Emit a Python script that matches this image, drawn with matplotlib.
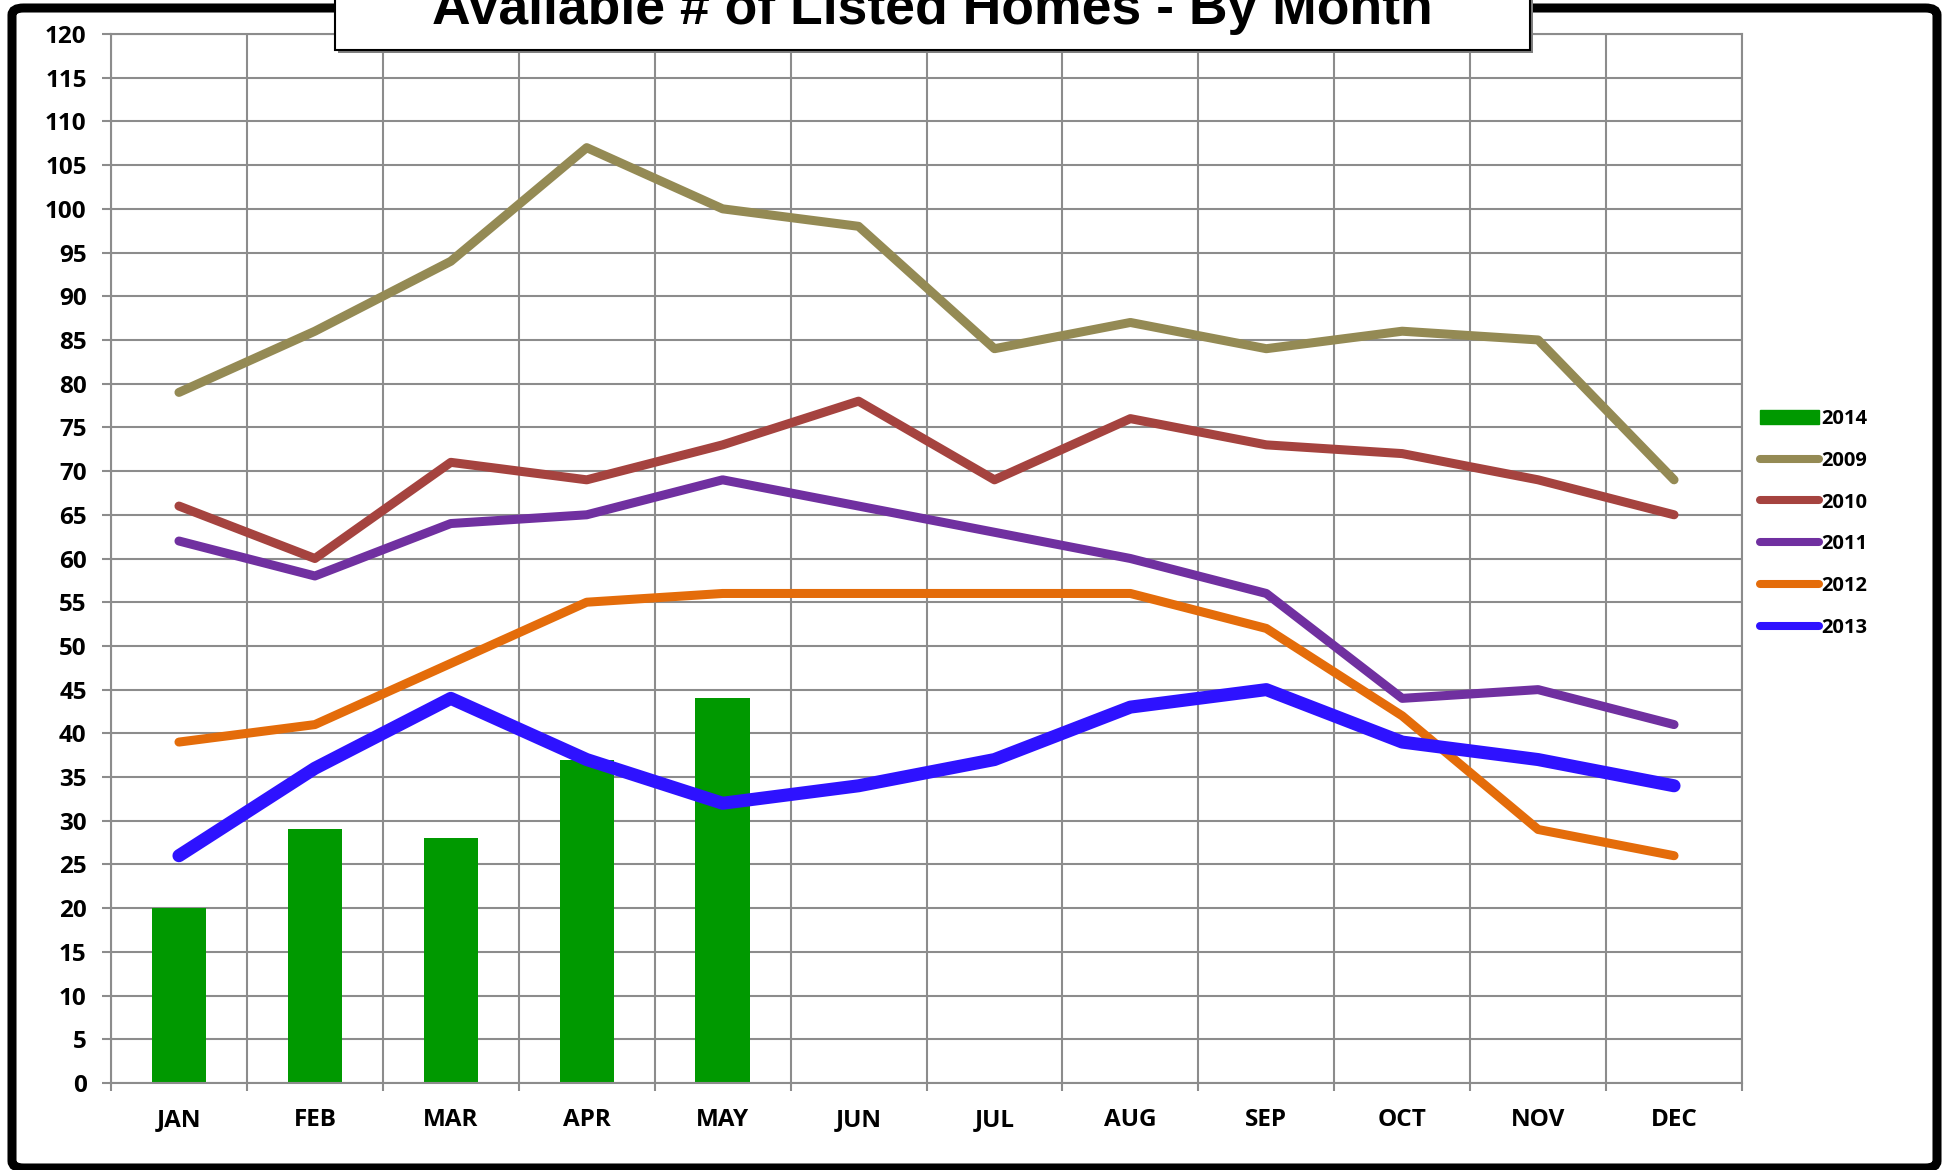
import matplotlib.pyplot as plt
from matplotlib.lines import Line2D
from matplotlib.patches import Patch, Rectangle, FancyBboxPatch

months = ["JAN", "FEB", "MAR", "APR", "MAY", "JUN", "JUL", "AUG", "SEP", "OCT", "NOV", "DEC"]
homes_2009 = [79, 86, 94, 107, 100, 98, 84, 87, 84, 86, 85, 69]
homes_2010 = [66, 60, 71, 69, 73, 78, 69, 76, 73, 72, 69, 65]
homes_2011 = [62, 58, 64, 65, 69, 66, 63, 60, 56, 44, 45, 41]
homes_2012 = [39, 41, 48, 55, 56, 56, 56, 56, 52, 42, 29, 26]
homes_2013 = [26, 36, 44, 37, 32, 34, 37, 43, 45, 39, 37, 34]
homes_2014 = [20, 29, 28, 37, 44]

plt.rcParams["font.family"] = ["Open Sans", "DejaVu Sans"]
plt.rcParams["font.weight"] = "bold"

W, H = 1946, 1170
fig = plt.figure(figsize=(W / 100, H / 100), dpi=100)
ax = fig.add_axes([111 / W, 1 - 1083 / H, (1742 - 111) / W, (1083 - 34) / H])

grid_col = "#8c8c8c"
x = [i + 0.5 for i in range(len(months))]

# bars first, lines on top
ax.bar(x[:len(homes_2014)], homes_2014, width=0.4, color="#009900", zorder=2)

series = [
    (homes_2009, "#948a54", 6.5),
    (homes_2010, "#a5433f", 6.5),
    (homes_2011, "#7030a0", 6.5),
    (homes_2012, "#e46c0a", 6.5),
    (homes_2013, "#2e12ff", 9.4),
]
for vals, col, lw in series:
    ax.plot(x, vals, color=col, lw=lw, solid_capstyle="round",
            solid_joinstyle="round", zorder=3)

ax.set_xlim(0, 12)
ax.set_ylim(0, 120)
ax.set_yticks(range(0, 121, 5))
ax.set_xticks(range(0, 13))
ax.set_xticklabels([])
ax.set_xticks(x, minor=True)
ax.set_xticklabels(months, minor=True)
ax.grid(True, color=grid_col, lw=1.5, zorder=0)
ax.set_axisbelow(True)
for s in ax.spines.values():
    s.set_color(grid_col)
    s.set_linewidth(1.5)

ax.tick_params(axis="y", length=6.5, width=1.5, color=grid_col, pad=11,
               labelsize=17.5)
ax.tick_params(axis="x", which="major", length=6, width=1.5, color=grid_col)
ax.tick_params(axis="x", which="minor", length=0, pad=18, labelsize=17.5)

# legend on the right
handles = [Patch(color="#009900")]
labels = ["2014", "2009", "2010", "2011", "2012", "2013"]
for vals, col, lw in series:
    handles.append(Line2D([0], [0], color=col, lw=5.8, solid_capstyle="round"))
leg = fig.legend(handles, labels, loc="upper left",
                 bbox_to_anchor=(1760 / W, 1 - 409 / H), frameon=False,
                 prop={"weight": "bold", "size": 14.5},
                 handlelength=2.95, handletextpad=0.1, labelspacing=1.08,
                 borderpad=0, borderaxespad=0)

# outer frame
fig.patches.append(FancyBboxPatch((12 / W, 2 / H), (1937 - 12) / W, (1162 - 2) / H,
                                  boxstyle="round,pad=0,rounding_size=0.006",
                                  transform=fig.transFigure, fill=False,
                                  ec="black", lw=6.5, zorder=1))

# title box sticking out of the top
fig.patches.append(Rectangle((338 / W, 1 - 53 / H), 1195 / W, 80 / H,
                             transform=fig.transFigure, fc="#7f7f7f", ec="none",
                             zorder=4))
fig.patches.append(Rectangle((335 / W, 1 - 50 / H), 1195 / W, 80 / H,
                             transform=fig.transFigure, fc="white", ec="black",
                             lw=1.5, zorder=5))
fig.text(932 / W, 1 - 24 / H, "Available # of Listed Homes - By Month",
         ha="center", va="baseline", fontsize=38.5, fontweight="bold",
         family="Liberation Sans", zorder=6)

fig.savefig("out.png", dpi=100)
